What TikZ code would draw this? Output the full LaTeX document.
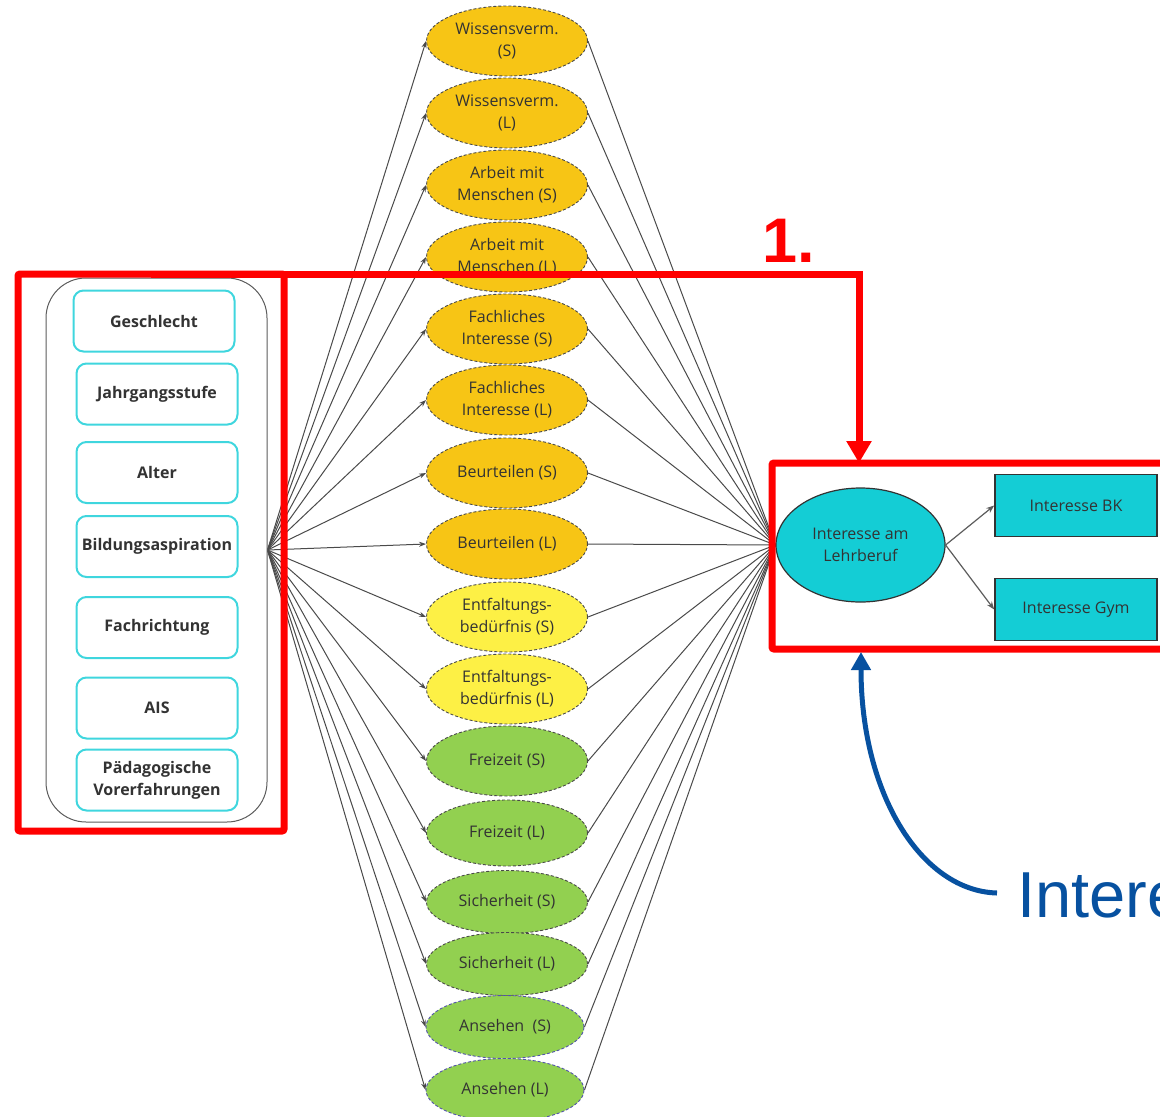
\documentclass[tikz,border=0pt]{standalone}
\usepackage{fontspec}
\setmainfont{Open Sans}
\newfontfamily\myarial{Liberation Sans}
\usetikzlibrary{shapes.geometric,arrows.meta,backgrounds}
\definecolor{dy}{HTML}{F7C515}
\definecolor{ly}{HTML}{FDF045}
\definecolor{gr}{HTML}{92D050}
\definecolor{cy}{HTML}{14CDD5}
\definecolor{cyb}{HTML}{3FD6DE}
\definecolor{txt}{HTML}{333333}
\definecolor{bl}{HTML}{0751A0}
\definecolor{ln}{HTML}{4A4A4A}
\newcommand\myelfont{\fontsize{16}{22}\selectfont}
\newcommand\mybfont{\fontsize{16}{22}\selectfont\bfseries}
\begin{document}
\begin{tikzpicture}[x=1pt,y=-1pt,
  lat/.style={ellipse, draw=ln, line width=0.9pt, dash pattern=on 3pt off 2pt,
    fill=#1, minimum width=161pt, minimum height=70pt, inner sep=0pt,
    align=center, font=\myelfont, text=txt},
  inbox/.style={draw=cyb, line width=2pt, rounded corners=10pt, fill=white,
    minimum width=161pt, minimum height=61pt, inner sep=0pt, align=center,
    font=\mybfont, text=txt},
  outbox/.style={draw=txt, line width=1.6pt, fill=cy, minimum width=162pt,
    minimum height=62pt, inner sep=0pt, font=\myelfont, text=txt},
  fan/.style={draw=ln, line width=1pt},
  fanarr/.style={fan, -{Stealth[length=7pt,width=5pt]}},
  redbox/.style={draw=red, line width=7pt, rounded corners=2pt, inner sep=0pt, outer sep=0pt},
]
\clip (0,0) rectangle (1160,1117);

% left group
\node[draw=ln!90, line width=1pt, rounded corners=40pt, minimum width=221pt,
  minimum height=544pt, inner sep=0pt] (outer) at (156.5,550) {};
\node[inbox] (v1) at (154,321) {Geschlecht};
\node[inbox] (v2) at (157,394) {Jahrgangsstufe};
\node[inbox] (v3) at (157,472.5) {Alter};
\node[inbox] (v4) at (157,546.5) {Bildungsaspiration};
\node[inbox] (v5) at (157,627.5) {Fachrichtung};
\node[inbox] (v6) at (157,708) {AIS};
\node[inbox] (v7) at (157,780) {Pädagogische\\Vorerfahrungen};

% latent ellipses
\node[lat=dy] (e1) at (507,41) {Wissensverm.\\(S)};
\node[lat=dy] (e2) at (507,113) {Wissensverm.\\(L)};
\node[lat=dy] (e3) at (507,185) {Arbeit mit\\Menschen (S)};
\node[lat=dy] (e4) at (507,257) {Arbeit mit\\Menschen (L)};
\node[lat=dy] (e5) at (507,329) {Fachliches\\Interesse (S)};
\node[lat=dy] (e6) at (507,400) {Fachliches\\Interesse (L)};
\node[lat=dy] (e7) at (507,473) {Beurteilen (S)};
\node[lat=dy] (e8) at (507,544) {Beurteilen (L)};
\node[lat=ly] (e9) at (507,617) {Entfaltungs-\\bedürfnis (S)};
\node[lat=ly] (e10) at (507,689) {Entfaltungs-\\bedürfnis (L)};
\node[lat=gr] (e11) at (507,761) {Freizeit (S)};
\node[lat=gr, minimum height=66pt] (e12) at (507,833) {Freizeit (L)};
\node[lat=gr, minimum height=63pt] (e13) at (507,902) {Sicherheit (S)};
\node[lat=gr, minimum height=63pt] (e14) at (507,964) {Sicherheit (L)};
\node[lat=gr, minimum height=63pt, minimum width=158pt, draw=blue!35!gray] (e15) at (505,1027) {Ansehen\ \ (S)};
\node[lat=gr, minimum height=63pt, minimum width=158pt, draw=blue!35!gray] (e16) at (505,1090) {Ansehen (L)};

% outcome
\node[ellipse, draw=txt, line width=1.2pt, fill=cy, minimum width=169pt,
  minimum height=114pt, inner sep=0pt, align=center, font=\myelfont, text=txt]
  (big) at (860.5,545) {Interesse am\\Lehrberuf};
\node[outbox] (bk) at (1076,505.5) {Interesse BK};
\node[outbox] (gym) at (1076,609.5) {Interesse Gym};
\draw[line width=1.2pt, draw=txt!80, -{Stealth[length=8pt,width=6pt]}] (big.east) -- (bk.west);
\draw[line width=1.2pt, draw=txt!80, -{Stealth[length=8pt,width=6pt]}] (big.east) -- (gym.west);

% fan connectors
\begin{scope}[on background layer]
\foreach \i in {1,...,16}{
  \draw[fanarr] (outer.east) -- (e\i.west);
  \draw[fan] (e\i.east) -- (big.west);
}
\end{scope}

% red annotation
\node[redbox, minimum width=266pt, minimum height=557pt] (r1) at (151,552.5) {};
\node[redbox, minimum width=428pt, minimum height=186pt] (r2) at (986,556) {};
\coordinate (turn) at (859,274);
\draw[red, line width=7pt, line join=miter, -{Triangle[length=22pt,width=24pt]}]
  (r1.north) -- (turn) -- (turn |- r2.north);
\node[anchor=base west, inner sep=0pt, text=red, font=\myarial\bfseries\fontsize{63}{63}\selectfont]
  (one) at (762,262) {1.};

% blue annotation
\node[anchor=base west, inner sep=0pt, text=bl, font=\myarial\fontsize{65}{65}\selectfont]
  (itxt) at (1017,917) {Intere};
\coordinate (bstart) at (997,893);
\coordinate (btip) at (861,652);
\draw[bl, line width=5pt, -{Triangle[length=18pt,width=19pt]}]
  (bstart) .. controls (922,891) and (861,795) .. (btip);
\end{tikzpicture}
\end{document}
